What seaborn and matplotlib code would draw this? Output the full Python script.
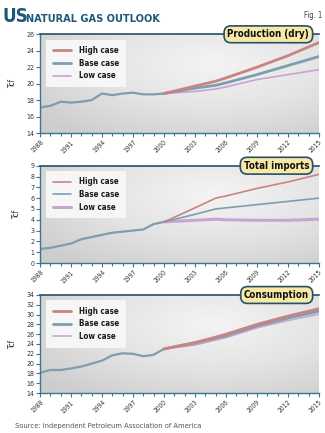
import numpy as np
import pandas as pd
import matplotlib
matplotlib.use("Agg")
import matplotlib.pyplot as plt
from matplotlib.colors import LinearSegmentedColormap
from matplotlib.ticker import MultipleLocator
import seaborn as sns

# ---------------- data ----------------
hist_years = list(range(1988, 2001))
proj_years = [2000, 2003, 2005, 2006, 2009, 2012, 2015]
cases = ["High case", "Base case", "Low case"]

prod_hist = [17.1, 17.3, 17.8, 17.7, 17.8, 18.0, 18.8, 18.6, 18.8, 18.9, 18.7, 18.7, 18.8]
prod_high = [18.8, 19.7, 20.3, 20.7, 22.0, 23.4, 25.0]
prod_base = [18.8, 19.45, 19.8, 20.1, 21.1, 22.2, 23.3]
prod_low = [18.8, 19.05, 19.35, 19.6, 20.5, 21.1, 21.7]

imp_hist = [1.3, 1.4, 1.6, 1.8, 2.2, 2.4, 2.6, 2.8, 2.9, 3.0, 3.1, 3.6, 3.8]
imp_high = [3.8, 5.1, 6.0, 6.2, 6.9, 7.5, 8.2]
imp_base = [3.8, 4.5, 5.0, 5.1, 5.4, 5.7, 6.0]
imp_low = [3.8, 3.95, 4.05, 4.0, 3.95, 3.95, 4.05]

cons_hist = [18.1, 18.7, 18.7, 19.0, 19.4, 20.0, 20.6, 21.7, 22.1, 22.0, 21.5, 21.8, 23.0]
cons_high = [23.0, 24.3, 25.4, 26.0, 28.0, 29.7, 31.2]
cons_base = [23.0, 24.2, 25.2, 25.7, 27.7, 29.3, 30.7]
cons_low = [23.0, 23.8, 24.8, 25.3, 27.3, 28.8, 30.1]

panel_titles = ["Production (dry)", "Total imports", "Consumption"]
y_label = "Tcf"
x_ticks = list(range(1988, 2016, 3))
source_text = "Source: Independent Petroleum Association of America"

# ---------------- style ----------------
sns.set_style("ticks")
FAM = ["DejaVu Sans"]
plt.rcParams["font.family"] = FAM
plt.rcParams["font.stretch"] = "condensed"

colors = {"High case": "#c98482", "Base case": "#7d9eae", "Low case": "#c9a3d2"}
spine_col = "#3d7590"
title_col = "#1e5878"

W, H = 325, 433
fig = plt.figure(figsize=(W / 100, H / 100), dpi=100)
fig.patch.set_facecolor("white")

def frac(left, top, right, bottom):
    return [left / W, 1 - bottom / H, (right - left) / W, (bottom - top) / H]

positions = [frac(40, 34.3, 319, 133), frac(40, 165.7, 319, 263), frac(40, 295, 319, 393)]
ylims = [(14, 26, 2), (0, 9, 1), (14, 34, 2)]
hists = [prod_hist, imp_hist, cons_hist]
projs = [(prod_high, prod_base, prod_low), (imp_high, imp_base, imp_low), (cons_high, cons_base, cons_low)]
widths = [{"High case": 2.0, "Base case": 2.0, "Low case": 1.2},
          {"High case": 1.2, "Base case": 1.2, "Low case": 2.2},
          {"High case": 2.0, "Base case": 2.0, "Low case": 1.2}]

# background gradient
gx, gy = np.meshgrid(np.linspace(0, 1, 200), np.linspace(0, 1, 100))
d = np.sqrt(((gx - 0.62) / 0.8) ** 2 + ((gy - 0.3) / 0.9) ** 2)
grad = np.clip(d, 0, 1)
cmap_bg = LinearSegmentedColormap.from_list("bg", ["#f4f4f4", "#e4e4e4", "#cdcdcd"])

for i in range(3):
    pos = positions[i]
    bg = fig.add_axes(pos, zorder=0)
    bg.imshow(grad, cmap=cmap_bg, aspect="auto", extent=[0, 1, 0, 1], origin="upper")
    bg.axis("off")

    ax = fig.add_axes(pos, zorder=1)
    ax.set_facecolor("none")

    hdf = pd.DataFrame({"year": hist_years, "value": hists[i]})
    sns.lineplot(data=hdf, x="year", y="value", ax=ax, color=colors["Base case"], lw=1.6, legend=False)

    rows = []
    for c, vals in zip(cases, projs[i]):
        for yr, v in zip(proj_years, vals):
            rows.append({"year": yr, "value": v, "case": c})
    pdf = pd.DataFrame(rows)
    for c in ["Low case", "Base case", "High case"]:
        sub = pdf[pdf["case"] == c]
        sns.lineplot(data=sub, x="year", y="value", ax=ax, color=colors[c],
                     lw=widths[i][c], label=c)

    lo, hi, step = ylims[i]
    ax.set_ylim(lo, hi)
    ax.set_xlim(1988, 2015)
    ax.yaxis.set_major_locator(MultipleLocator(step))
    ax.set_xticks(x_ticks)
    ax.xaxis.set_minor_locator(MultipleLocator(1))
    ax.set_xticklabels([str(t) for t in x_ticks], rotation=45, ha="right",
                       rotation_mode="anchor", fontsize=4.8, color="#333333")
    ax.tick_params(axis="y", labelsize=5, labelcolor="#333333", length=3, width=0.8,
                   color=spine_col, pad=1)
    ax.tick_params(axis="x", which="major", length=3, width=0.8, color=spine_col, pad=1.5)
    ax.tick_params(axis="x", which="minor", length=2, width=0.8, color=spine_col)
    ax.set_xlabel("")
    ax.set_ylabel(y_label, fontsize=5.5, color="#333333", labelpad=7)

    for s in ["left", "bottom"]:
        ax.spines[s].set_color(spine_col)
        ax.spines[s].set_linewidth(1.0)
    ax.spines["right"].set_visible(False)
    ax.spines["top"].set_color("#24506a")
    ax.spines["top"].set_linewidth(1.2)

    handles, labels = ax.get_legend_handles_labels()
    order = [labels.index(c) for c in cases]
    leg = ax.legend([handles[k] for k in order], [labels[k] for k in order],
                    loc="upper left", bbox_to_anchor=(0.022, 0.945), frameon=True,
                    fancybox=False, facecolor="#f6f6f6", edgecolor="none", framealpha=1,
                    prop={"family": FAM, "weight": "bold", "size": 5.8, "stretch": "condensed"},
                    handlelength=2.3, handletextpad=1.0, labelspacing=0.45,
                    borderpad=0.8, borderaxespad=0)
    for t in leg.get_texts():
        t.set_color("#1a1a1a")

    ax.text(0.965, 1.0, panel_titles[i], transform=ax.transAxes, ha="right", va="center",
            fontsize=7, fontweight="bold", color="#111111", zorder=5,
            bbox=dict(boxstyle="round,pad=0.35,rounding_size=0.7", fc="#f8eaa6",
                      ec="#24506a", lw=1.2))

# title
fig.text(2 / W, 1 - 22 / H, "US", fontsize=13.5, fontweight="bold", color=title_col,
         ha="left", va="baseline")
fig.text(26 / W, 1 - 21.5 / H, "NATURAL GAS OUTLOOK", fontsize=7.8, fontweight="bold",
         color=title_col, ha="left", va="baseline")
fig.text(322 / W, 1 - 18 / H, "Fig. 1", fontsize=5.5, color="#444444", ha="right",
         va="baseline")
fig.text(15 / W, 1 - 428 / H, source_text, fontsize=5.4, color="#555555", ha="left",
         va="baseline")

fig.savefig("out.png", dpi=100)
